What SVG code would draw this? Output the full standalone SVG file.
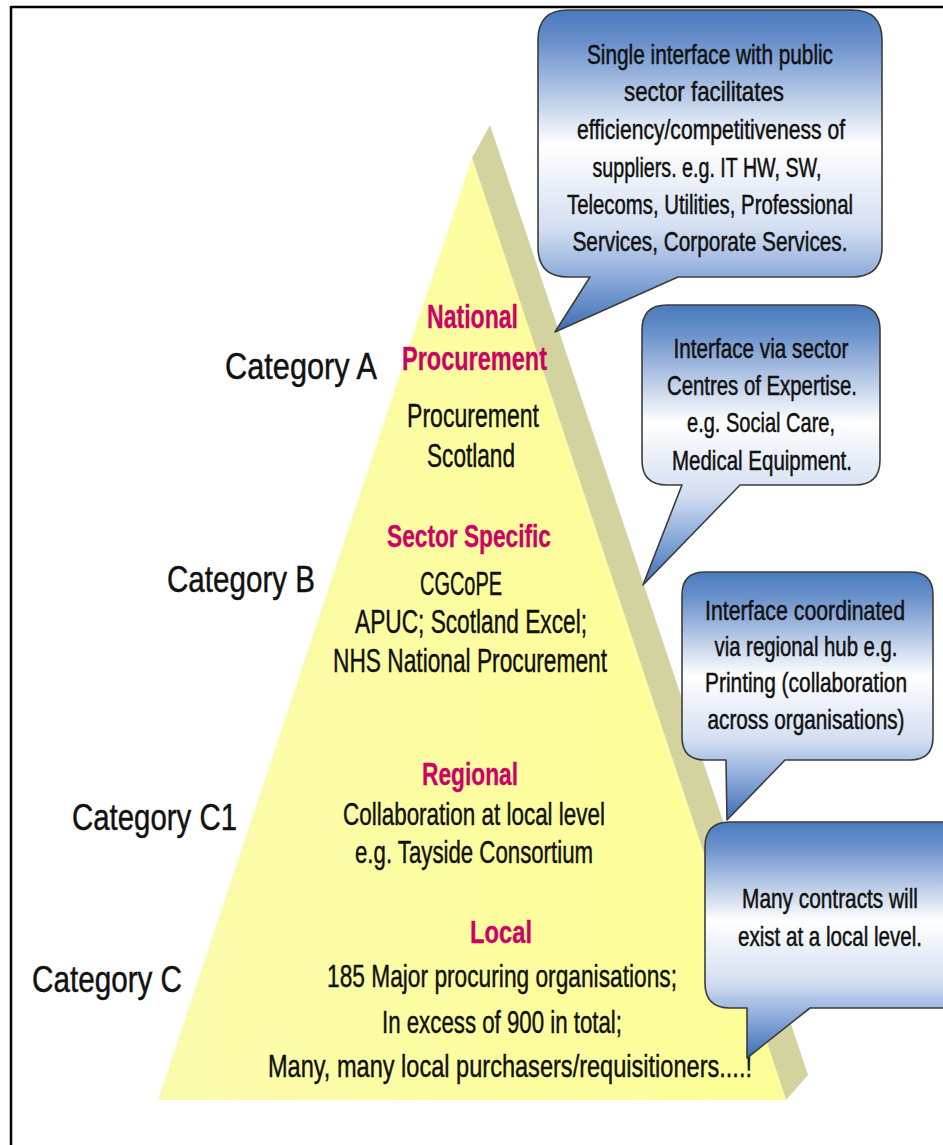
<svg xmlns="http://www.w3.org/2000/svg" width="943" height="1145" viewBox="0 0 943 1145">
<defs>
<linearGradient id="calloutFill" x1="0" y1="0" x2="0" y2="1">
<stop offset="0" stop-color="#4a7bbd"/>
<stop offset="0.1" stop-color="#6990cb"/>
<stop offset="0.42" stop-color="#ffffff"/>
<stop offset="0.68" stop-color="#d2def1"/>
<stop offset="0.84" stop-color="#86a7d8"/>
<stop offset="1" stop-color="#3d6db2"/>
</linearGradient>
<linearGradient id="yellowFill" x1="0" y1="0" x2="1" y2="0">
<stop offset="0" stop-color="#fbfbae"/>
<stop offset="0.6" stop-color="#fdfd9e"/>
<stop offset="1" stop-color="#fefe98"/>
</linearGradient>
<style>
.callout{fill:url(#calloutFill);stroke:#3c3c3c;stroke-width:1.6;stroke-linejoin:round}
.t{font-family:"Liberation Sans Narrow","Liberation Sans",Arial,sans-serif;fill:#111;stroke:#111;stroke-width:0.45}
.ct{font-size:27.5px;text-anchor:middle;stroke-width:0.5}
.cat{font-size:37px}
.head{font-weight:bold;fill:#cc0066;stroke:#cc0066;stroke-width:0.3;text-anchor:middle}
.body{text-anchor:middle}
</style>
</defs>
<rect x="0" y="0" width="943" height="1145" fill="#ffffff"/>
<g id="frame">
<line x1="11" y1="7" x2="943" y2="7" stroke="#000" stroke-width="2.5"/>
<line x1="11" y1="6" x2="11" y2="1145" stroke="#000" stroke-width="2.5"/>
</g>
<g id="pyramid">
<polygon points="490,125 808,1075 786,1100 472,158" fill="#d3d3a0"/>
<polygon points="472,158 786,1100 158,1100" fill="url(#yellowFill)"/>
</g>
<g id="categories">
<text class="t cat" x="225" y="379" textLength="152" lengthAdjust="spacingAndGlyphs">Category A</text>
<text class="t cat" x="167" y="592" textLength="148" lengthAdjust="spacingAndGlyphs">Category B</text>
<text class="t cat" x="72" y="830" textLength="165" lengthAdjust="spacingAndGlyphs">Category C1</text>
<text class="t cat" x="32" y="992" textLength="150" lengthAdjust="spacingAndGlyphs">Category C</text>
</g>
<g id="level-national">
<text class="t head" x="472.5" y="328" font-size="34" textLength="91" lengthAdjust="spacingAndGlyphs">National</text>
<text class="t head" x="474.5" y="370" font-size="34" textLength="145" lengthAdjust="spacingAndGlyphs">Procurement</text>
<text class="t body" x="473" y="427" font-size="33" textLength="132" lengthAdjust="spacingAndGlyphs">Procurement</text>
<text class="t body" x="471" y="467" font-size="33" textLength="88" lengthAdjust="spacingAndGlyphs">Scotland</text>
</g>
<g id="level-sector">
<text class="t head" x="469" y="547" font-size="31" textLength="164" lengthAdjust="spacingAndGlyphs">Sector Specific</text>
<text class="t body" x="461" y="595" font-size="33" textLength="82" lengthAdjust="spacingAndGlyphs">CGCoPE</text>
<text class="t body" x="471" y="633" font-size="33" textLength="232" lengthAdjust="spacingAndGlyphs">APUC; Scotland Excel;</text>
<text class="t body" x="470" y="672" font-size="33" textLength="274" lengthAdjust="spacingAndGlyphs">NHS National Procurement</text>
</g>
<g id="level-regional">
<text class="t head" x="470" y="785" font-size="31" textLength="96" lengthAdjust="spacingAndGlyphs">Regional</text>
<text class="t body" x="474" y="825" font-size="32" textLength="262" lengthAdjust="spacingAndGlyphs">Collaboration at local level</text>
<text class="t body" x="474" y="863" font-size="32" textLength="238" lengthAdjust="spacingAndGlyphs">e.g. Tayside Consortium</text>
</g>
<g id="level-local">
<text class="t head" x="501" y="943" font-size="31" textLength="62" lengthAdjust="spacingAndGlyphs">Local</text>
<text class="t body" x="502" y="987" font-size="32" textLength="350" lengthAdjust="spacingAndGlyphs">185 Major procuring organisations;</text>
<text class="t body" x="502" y="1033" font-size="32" textLength="240" lengthAdjust="spacingAndGlyphs">In excess of 900 in total;</text>
<text class="t body" x="510" y="1077" font-size="32" textLength="484" lengthAdjust="spacingAndGlyphs">Many, many local purchasers/requisitioners....!</text>
</g>
<g id="callout-national">
<path class="callout" d="M568,10 H852 Q882,10 882,40 V247 Q882,277 852,277 H678 L555,332 L590,277 H568 Q538,277 538,247 V40 Q538,10 568,10 Z"/>
<text class="t ct" transform="translate(710,64) scale(0.78,1)" textLength="315.4" lengthAdjust="spacingAndGlyphs">Single interface  with public</text>
<text class="t ct" transform="translate(704,101) scale(0.78,1)" textLength="205.1" lengthAdjust="spacingAndGlyphs">sector facilitates</text>
<text class="t ct" transform="translate(711,139) scale(0.78,1)" textLength="343.6" lengthAdjust="spacingAndGlyphs">efficiency/competitiveness of</text>
<text class="t ct" transform="translate(707,177) scale(0.78,1)" textLength="293.6" lengthAdjust="spacingAndGlyphs">suppliers. e.g. IT HW, SW,</text>
<text class="t ct" transform="translate(710,214) scale(0.78,1)" textLength="366.7" lengthAdjust="spacingAndGlyphs">Telecoms, Utilities, Professional</text>
<text class="t ct" transform="translate(710,251) scale(0.78,1)" textLength="352.6" lengthAdjust="spacingAndGlyphs">Services, Corporate Services.</text>
</g>
<g id="callout-sector">
<path class="callout" d="M667,305 H855 Q880,305 880,330 V460 Q880,485 855,485 H740 L643,585 L682,485 H667 Q642,485 642,460 V330 Q642,305 667,305 Z"/>
<text class="t ct" transform="translate(761,358) scale(0.78,1)" textLength="224.4" lengthAdjust="spacingAndGlyphs">Interface via sector</text>
<text class="t ct" transform="translate(762,395) scale(0.78,1)" textLength="243.6" lengthAdjust="spacingAndGlyphs">Centres of Expertise.</text>
<text class="t ct" transform="translate(761,432) scale(0.78,1)" textLength="189.7" lengthAdjust="spacingAndGlyphs">e.g. Social Care,</text>
<text class="t ct" transform="translate(762,470) scale(0.78,1)" textLength="230.8" lengthAdjust="spacingAndGlyphs">Medical Equipment.</text>
</g>
<g id="callout-regional">
<path class="callout" d="M705,572 H910 Q933,572 933,595 V737 Q933,760 910,760 H785 L727,820 L726,760 H705 Q682,760 682,737 V595 Q682,572 705,572 Z"/>
<text class="t ct" transform="translate(805,620) scale(0.78,1)" textLength="256.4" lengthAdjust="spacingAndGlyphs">Interface coordinated</text>
<text class="t ct" transform="translate(806,656) scale(0.78,1)" textLength="234.6" lengthAdjust="spacingAndGlyphs">via regional hub e.g.</text>
<text class="t ct" transform="translate(806,692) scale(0.78,1)" textLength="259" lengthAdjust="spacingAndGlyphs">Printing (collaboration</text>
<text class="t ct" transform="translate(806,729) scale(0.78,1)" textLength="252.6" lengthAdjust="spacingAndGlyphs">across organisations)</text>
</g>
<g id="callout-local">
<path class="callout" d="M730,822 H965 V1008 H810 L747,1058 L747,1008 H730 Q705,1008 705,983 V847 Q705,822 730,822 Z"/>
<text class="t ct" transform="translate(830,908) scale(0.78,1)" textLength="225.6" lengthAdjust="spacingAndGlyphs">Many contracts will</text>
<text class="t ct" transform="translate(830,946) scale(0.78,1)" textLength="235.9" lengthAdjust="spacingAndGlyphs">exist at a local level.</text>
</g>
<g id="connectors"/>
</svg>
